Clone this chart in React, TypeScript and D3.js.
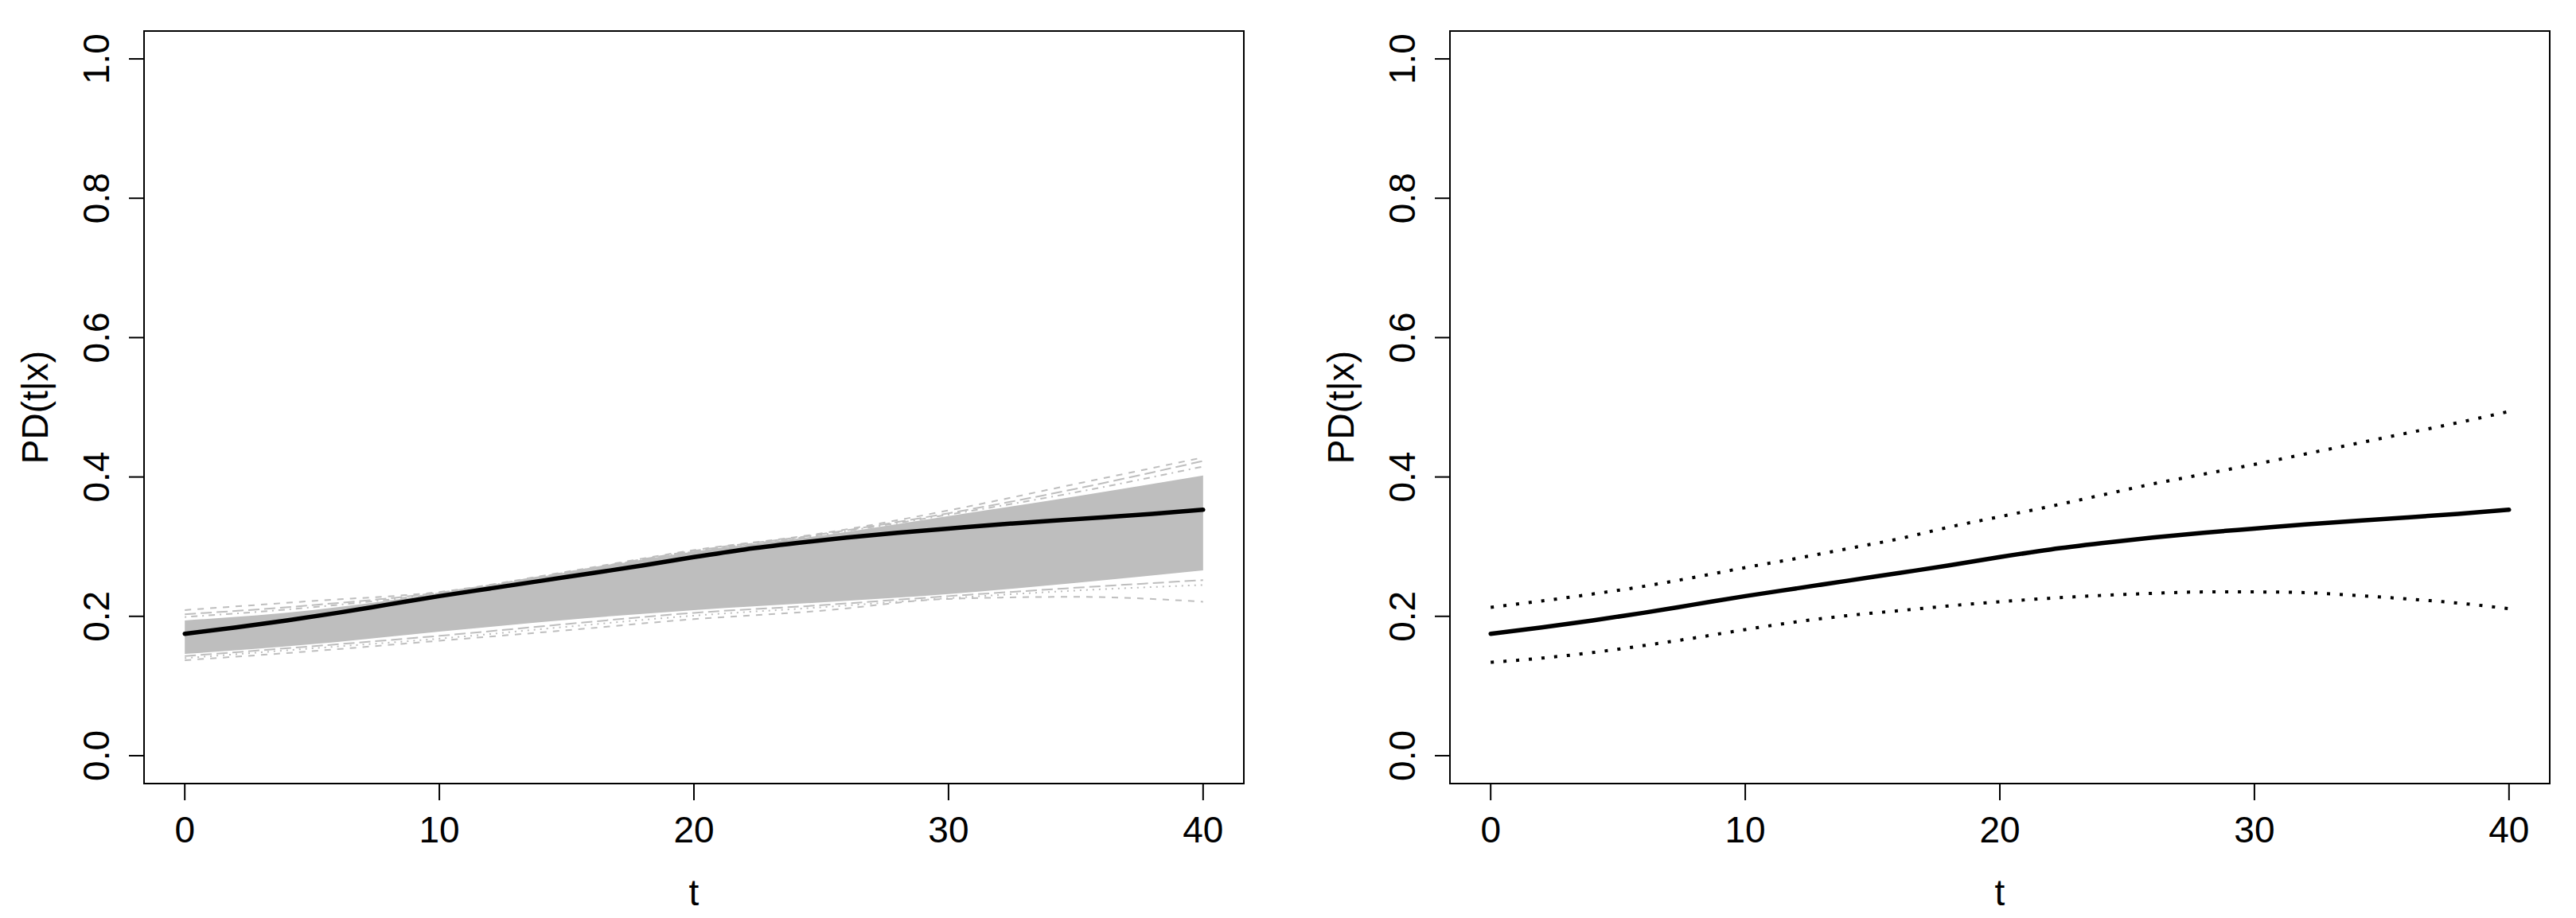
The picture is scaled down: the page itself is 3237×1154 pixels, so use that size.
import React from "react";
import * as d3 from "d3";

// time grid for the estimated curve and its confidence band
const tGrid = [0, 2, 4, 6, 8, 10, 12, 14, 16, 18, 20, 22, 24, 26, 28, 30, 32, 34, 36, 38, 40];
const meanPD = [0.175, 0.184, 0.194, 0.205, 0.217, 0.229, 0.240, 0.251, 0.262, 0.273, 0.285, 0.296, 0.305, 0.313, 0.320, 0.326, 0.332, 0.337, 0.342, 0.347, 0.353];
const upperCI = [0.213, 0.222, 0.232, 0.243, 0.256, 0.270, 0.283, 0.297, 0.311, 0.328, 0.343, 0.358, 0.374, 0.390, 0.404, 0.418, 0.433, 0.448, 0.463, 0.478, 0.494];
const lowerCI = [0.134, 0.140, 0.148, 0.158, 0.169, 0.181, 0.192, 0.201, 0.208, 0.215, 0.221, 0.226, 0.230, 0.233, 0.235, 0.235, 0.234, 0.230, 0.225, 0.219, 0.211];

// simulated curves (left panel): dense core plus the visible edge curves
const tBand = [0, 5, 10, 15, 20, 25, 30, 35, 40];
const bandHigh = [0.194, 0.209, 0.233, 0.263, 0.293, 0.316, 0.344, 0.372, 0.402];
const bandLow = [0.146, 0.160, 0.178, 0.195, 0.209, 0.220, 0.232, 0.248, 0.266];
const simUpper1 = [0.209, 0.222, 0.235, 0.264, 0.295, 0.319, 0.352, 0.390, 0.428];
const simUpper2 = [0.203, 0.216, 0.234, 0.263, 0.294, 0.318, 0.348, 0.383, 0.423];
const simUpper3 = [0.199, 0.213, 0.233, 0.263, 0.293, 0.317, 0.346, 0.378, 0.415];
const simLower1 = [0.137, 0.150, 0.165, 0.180, 0.196, 0.208, 0.225, 0.228, 0.221];
const simLower2 = [0.140, 0.154, 0.168, 0.185, 0.201, 0.213, 0.226, 0.237, 0.245];
const simLower3 = [0.143, 0.157, 0.172, 0.189, 0.205, 0.216, 0.229, 0.241, 0.252];

const xTicks = [0, 10, 20, 30, 40];
const yTicks = [0, 0.2, 0.4, 0.6, 0.8, 1.0];

const W = 3237;
const H = 1154;
const font = "'Liberation Sans', Arial, sans-serif";
const fs = 46;
const gray = "#bebebe";

const x = d3.scaleLinear().domain([-1.6, 41.6]).range([181, 1563]);
const y = d3.scaleLinear().domain([-0.04, 1.04]).range([985, 39]);

const line = d3
  .line<[number, number]>()
  .x((d) => x(d[0]))
  .y((d) => y(d[1]))
  .curve(d3.curveMonotoneX);

const area = d3
  .area<[number, number, number]>()
  .x((d) => x(d[0]))
  .y0((d) => y(d[1]))
  .y1((d) => y(d[2]))
  .curve(d3.curveMonotoneX);

const zip = (ts: number[], vs: number[]) => ts.map((t, i) => [t, vs[i]] as [number, number]);

function Frame({ dx }: { dx: number }) {
  const [x0, x1] = x.range();
  const [y0, y1] = y.range();
  const fmt = d3.format(".1f");
  return (
    <g transform={`translate(${dx},0)`} fontFamily={font} fontSize={fs} fill="#000">
      <rect x={x0} y={y1} width={x1 - x0} height={y0 - y1} fill="none" stroke="#000" strokeWidth={2} />
      {xTicks.map((t) => (
        <g key={t}>
          <line x1={x(t)} x2={x(t)} y1={y0} y2={y0 + 21} stroke="#000" strokeWidth={2} />
          <text x={x(t)} y={1059} textAnchor="middle">{t}</text>
        </g>
      ))}
      {yTicks.map((v) => (
        <g key={v}>
          <line x1={x0} x2={x0 - 19} y1={y(v)} y2={y(v)} stroke="#000" strokeWidth={2} />
          <text transform={`translate(137,${y(v)}) rotate(-90)`} textAnchor="middle">{fmt(v)}</text>
        </g>
      ))}
      <text x={(x0 + x1) / 2} y={1138} textAnchor="middle">t</text>
      <text transform={`translate(60,${(y0 + y1) / 2}) rotate(-90)`} textAnchor="middle">PD(t|x)</text>
    </g>
  );
}

export default function App() {
  const simLines: [number[], string][] = [
    [simUpper1, "8 8"],
    [simUpper2, "14 6"],
    [simUpper3, "2 6 8 6"],
    [simLower1, "8 8"],
    [simLower2, "2 6"],
    [simLower3, "14 6"],
  ];
  const meanPts = zip(tGrid, meanPD);
  return (
    <svg width={W} height={H} style={{ position: "absolute", left: 0, top: 0, background: "#fff" }}>
      {/* left: simulated curves with the estimate */}
      <g>
        <path d={area(tBand.map((t, i) => [t, bandLow[i], bandHigh[i]]))!} fill={gray} />
        {simLines.map(([vals, dash], i) => (
          <path key={i} d={line(zip(tBand, vals))!} fill="none" stroke={gray} strokeWidth={2} strokeDasharray={dash} />
        ))}
        <path d={line(meanPts)!} fill="none" stroke="#000" strokeWidth={5.5} strokeLinejoin="round" strokeLinecap="round" />
      </g>
      <Frame dx={0} />

      {/* right: estimate with pointwise bands */}
      <g transform="translate(1641,0)">
        <path d={line(zip(tGrid, upperCI))!} fill="none" stroke="#000" strokeWidth={4} strokeDasharray="4 12" />
        <path d={line(zip(tGrid, lowerCI))!} fill="none" stroke="#000" strokeWidth={4} strokeDasharray="4 12" />
        <path d={line(meanPts)!} fill="none" stroke="#000" strokeWidth={5.5} strokeLinejoin="round" strokeLinecap="round" />
      </g>
      <Frame dx={1641} />
    </svg>
  );
}
